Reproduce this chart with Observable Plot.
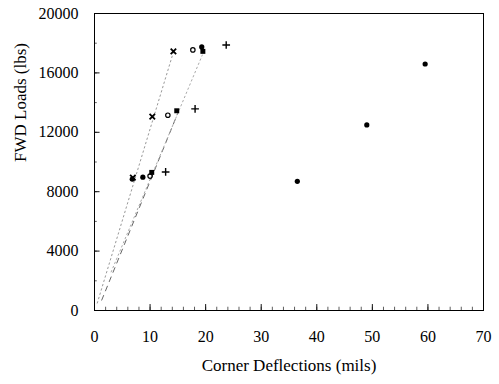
<!DOCTYPE html>
<html>
<head>
<meta charset="utf-8">
<script src="https://cdn.jsdelivr.net/npm/d3@7"></script>
<script src="https://cdn.jsdelivr.net/npm/@observablehq/plot@0.6"></script>
<style>
  html, body { margin: 0; padding: 0; background: #fff; }
  #chart { width: 499px; height: 384px; }
  #chart svg, #chart svg text { font-family: "Liberation Serif", "DejaVu Serif", serif !important; font-variant: normal !important; }
</style>
</head>
<body>
<div id="chart"></div>
<script>
// ---- data ----
const xLabel = "Corner Deflections (mils)";
const yLabel = "FWD Loads (lbs)";
const xTicks = [0, 10, 20, 30, 40, 50, 60, 70];
const yTicks = [0, 4000, 8000, 12000, 16000, 20000];
const xMinorTicks = d3.range(0, 70.1, 2);
const yMinorTicks = d3.range(0, 20001, 2000);

// marker series (deflection in mils, load in lbs)
const dotX = [6.8, 8.7, 19.3, 36.5, 49.0, 59.5];
const dotY = [8850, 8980, 17750, 8700, 12500, 16600];
const timesX = [6.9, 10.4, 14.2];
const timesY = [8950, 13050, 17450];
const squareX = [10.3, 14.8, 19.5];
const squareY = [9300, 13450, 17450];
const plusX = [12.8, 18.1, 23.7];
const plusY = [9330, 13580, 17880];
const ringX = [10.0, 13.2, 17.7];
const ringY = [9050, 13150, 17550];

// fitted trend lines
const fit1X = [0.5, 14.2];
const fit1Y = [500, 17400];
const fit2X = [1.3, 15.0];
const fit2Y = [700, 13300];
const fit3X = [3.0, 19.4];
const fit3Y = [2600, 17200];

const pts = (xs, ys) => xs.map((x, i) => ({x, y: ys[i]}));
const serif = "'Liberation Serif', 'DejaVu Serif', serif";

const chart = Plot.plot({
  width: 499,
  height: 384,
  marginLeft: 94,
  marginRight: 16,
  marginTop: 13,
  marginBottom: 74,
  style: {fontFamily: serif, fontSize: "15px", color: "black", background: "white"},
  x: {domain: [0, 70]},
  y: {domain: [0, 20000]},
  marks: [
    Plot.axisX({ticks: xTicks, tickSize: 0, tickPadding: 20, tickFormat: d => String(d), fontSize: 16, fontFamily: serif, label: null}),
    Plot.axisY({ticks: yTicks, tickSize: 0, tickPadding: 16, tickFormat: d => String(d), fontSize: 16, fontFamily: serif, label: null}),
    Plot.ruleX(xMinorTicks, {x: d => d, y1: 0, y2: 220, stroke: "#333", strokeWidth: 0.8}),
    Plot.ruleX(xTicks, {x: d => d, y1: 0, y2: 400, stroke: "#111", strokeWidth: 1}),
    Plot.ruleY(yMinorTicks, {y: d => d, x1: 0, x2: 0.5, stroke: "#333", strokeWidth: 0.8}),
    Plot.ruleY(yTicks, {y: d => d, x1: 0, x2: 1, stroke: "#111", strokeWidth: 1}),
    Plot.line(pts(fit1X, fit1Y), {x: "x", y: "y", stroke: "#999", strokeWidth: 1, strokeDasharray: "1.5,3"}),
    Plot.line(pts(fit2X, fit2Y), {x: "x", y: "y", stroke: "#666", strokeWidth: 1, strokeDasharray: "5,5"}),
    Plot.line(pts(fit3X, fit3Y), {x: "x", y: "y", stroke: "#aaa", strokeWidth: 1, strokeDasharray: "1.5,3"}),
    Plot.dot(pts(dotX, dotY), {x: "x", y: "y", r: 2.6, fill: "black", stroke: "none"}),
    Plot.dot(pts(timesX, timesY), {x: "x", y: "y", r: 2.6, symbol: "times", stroke: "black", strokeWidth: 1.8}),
    Plot.dot(pts(squareX, squareY), {x: "x", y: "y", r: 2.8, symbol: "square", fill: "black", stroke: "none"}),
    Plot.dot(pts(plusX, plusY), {x: "x", y: "y", r: 2.6, symbol: "plus", stroke: "black", strokeWidth: 1.4}),
    Plot.dot(pts(ringX, ringY), {x: "x", y: "y", r: 2.2, symbol: "circle", fill: "none", stroke: "black", strokeWidth: 1.2}),
    Plot.frame({stroke: "black", strokeWidth: 1}),
    Plot.text([xLabel], {text: d => d, frameAnchor: "bottom", dy: 60, fontSize: 17, fontFamily: serif}),
    Plot.text([yLabel], {text: d => d, frameAnchor: "left", dx: -74, rotate: -90, fontSize: 17, fontFamily: serif})
  ]
});
document.getElementById("chart").appendChild(chart);
</script>
</body>
</html>
